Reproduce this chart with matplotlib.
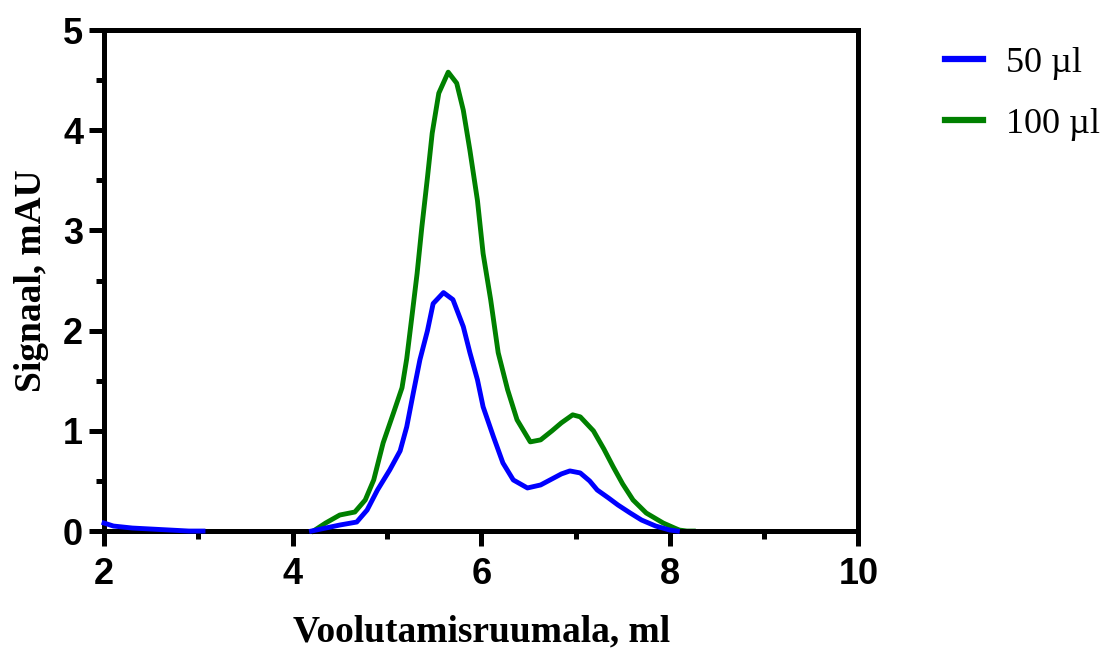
import matplotlib
matplotlib.use('Agg')
import matplotlib.pyplot as plt
from matplotlib.ticker import MultipleLocator

# 50 ul trace: short baseline piece at the start, then the main elution
x50_start = [2.0, 2.1, 2.3, 2.5, 2.7, 2.9, 3.05]
y50_start = [0.08, 0.05, 0.03, 0.02, 0.01, 0.0, 0.0]
x50 = [4.2, 4.35, 4.5, 4.68, 4.79, 4.9, 5.03, 5.14, 5.21, 5.28, 5.35, 5.43, 5.49,
       5.6, 5.7, 5.81, 5.88, 5.96, 6.02, 6.13, 6.23, 6.34, 6.49, 6.63, 6.75, 6.85,
       6.94, 7.05, 7.15, 7.23, 7.35, 7.45, 7.58, 7.7, 7.85, 8.0, 8.08]
y50 = [0.0, 0.03, 0.06, 0.09, 0.21, 0.41, 0.61, 0.8, 1.04, 1.38, 1.71, 2.0, 2.27,
       2.38, 2.31, 2.04, 1.78, 1.51, 1.24, 0.94, 0.68, 0.51, 0.43, 0.46, 0.52, 0.57,
       0.60, 0.58, 0.50, 0.41, 0.33, 0.26, 0.18, 0.11, 0.05, 0.01, 0.0]

# 100 ul trace
x100 = [4.22, 4.35, 4.5, 4.66, 4.77, 4.86, 4.96, 5.07, 5.16, 5.21, 5.27, 5.32, 5.37,
        5.43, 5.48, 5.55, 5.65, 5.74, 5.81, 5.88, 5.96, 6.02, 6.1, 6.18, 6.28, 6.38,
        6.52, 6.63, 6.75, 6.85, 6.97, 7.05, 7.19, 7.3, 7.4, 7.5, 7.61, 7.75, 7.93,
        8.05, 8.1, 8.18, 8.25]
y100 = [0.0, 0.08, 0.16, 0.19, 0.31, 0.51, 0.88, 1.18, 1.43, 1.72, 2.18, 2.57, 3.03,
        3.53, 3.97, 4.37, 4.58, 4.47, 4.2, 3.8, 3.3, 2.77, 2.31, 1.78, 1.41, 1.11,
        0.89, 0.91, 1.0, 1.08, 1.16, 1.14, 1.0, 0.82, 0.64, 0.47, 0.31, 0.18, 0.08,
        0.03, 0.01, 0.0, 0.0]

labels = ['50 µl', '100 µl']
colors = ['#0000ff', '#008000']

fig = plt.figure(figsize=(11.16, 6.54), dpi=100)
ax = fig.add_axes([0.0932, 0.188, 0.676, 0.766])

ax.plot(x50_start, y50_start, color=colors[0], lw=3.5, clip_on=False, zorder=3)
ax.plot(x50, y50, color=colors[0], lw=3.5, label=labels[0], clip_on=False, zorder=3)
ax.plot(x100, y100, color=colors[1], lw=3.5, label=labels[1], clip_on=False, zorder=2)

ax.set_xlim(2, 10)
ax.set_ylim(0, 5)
ax.xaxis.set_major_locator(MultipleLocator(2))
ax.xaxis.set_minor_locator(MultipleLocator(1))
ax.yaxis.set_major_locator(MultipleLocator(1))
ax.yaxis.set_minor_locator(MultipleLocator(0.5))

for s in ax.spines.values():
    s.set_linewidth(3.6)
ax.tick_params(which='major', direction='out', length=11, width=3.6, labelsize=26)
ax.tick_params(which='minor', direction='out', length=6, width=3.6)
ax.tick_params(axis='x', which='major', pad=8)
ax.tick_params(axis='y', which='major', pad=4)
for t in ax.get_xticklabels() + ax.get_yticklabels():
    t.set_fontfamily('Liberation Sans')
    t.set_fontweight('bold')

ax.set_xlabel('Voolutamisruumala, ml', family='Liberation Serif', fontweight='bold',
              fontsize=27, labelpad=16)
ax.set_ylabel('Signaal, mAU', family='Liberation Serif', fontweight='bold',
              fontsize=27, labelpad=10)

leg = ax.legend(loc='upper left', bbox_to_anchor=(1.072, 1.032), frameon=False,
                prop={'family': 'Liberation Serif', 'size': 26},
                handlelength=1.05, handletextpad=0.62, labelspacing=0.76)
for h in leg.get_lines():
    h.set_linewidth(4.5)

fig.savefig('out.png', dpi=100)
